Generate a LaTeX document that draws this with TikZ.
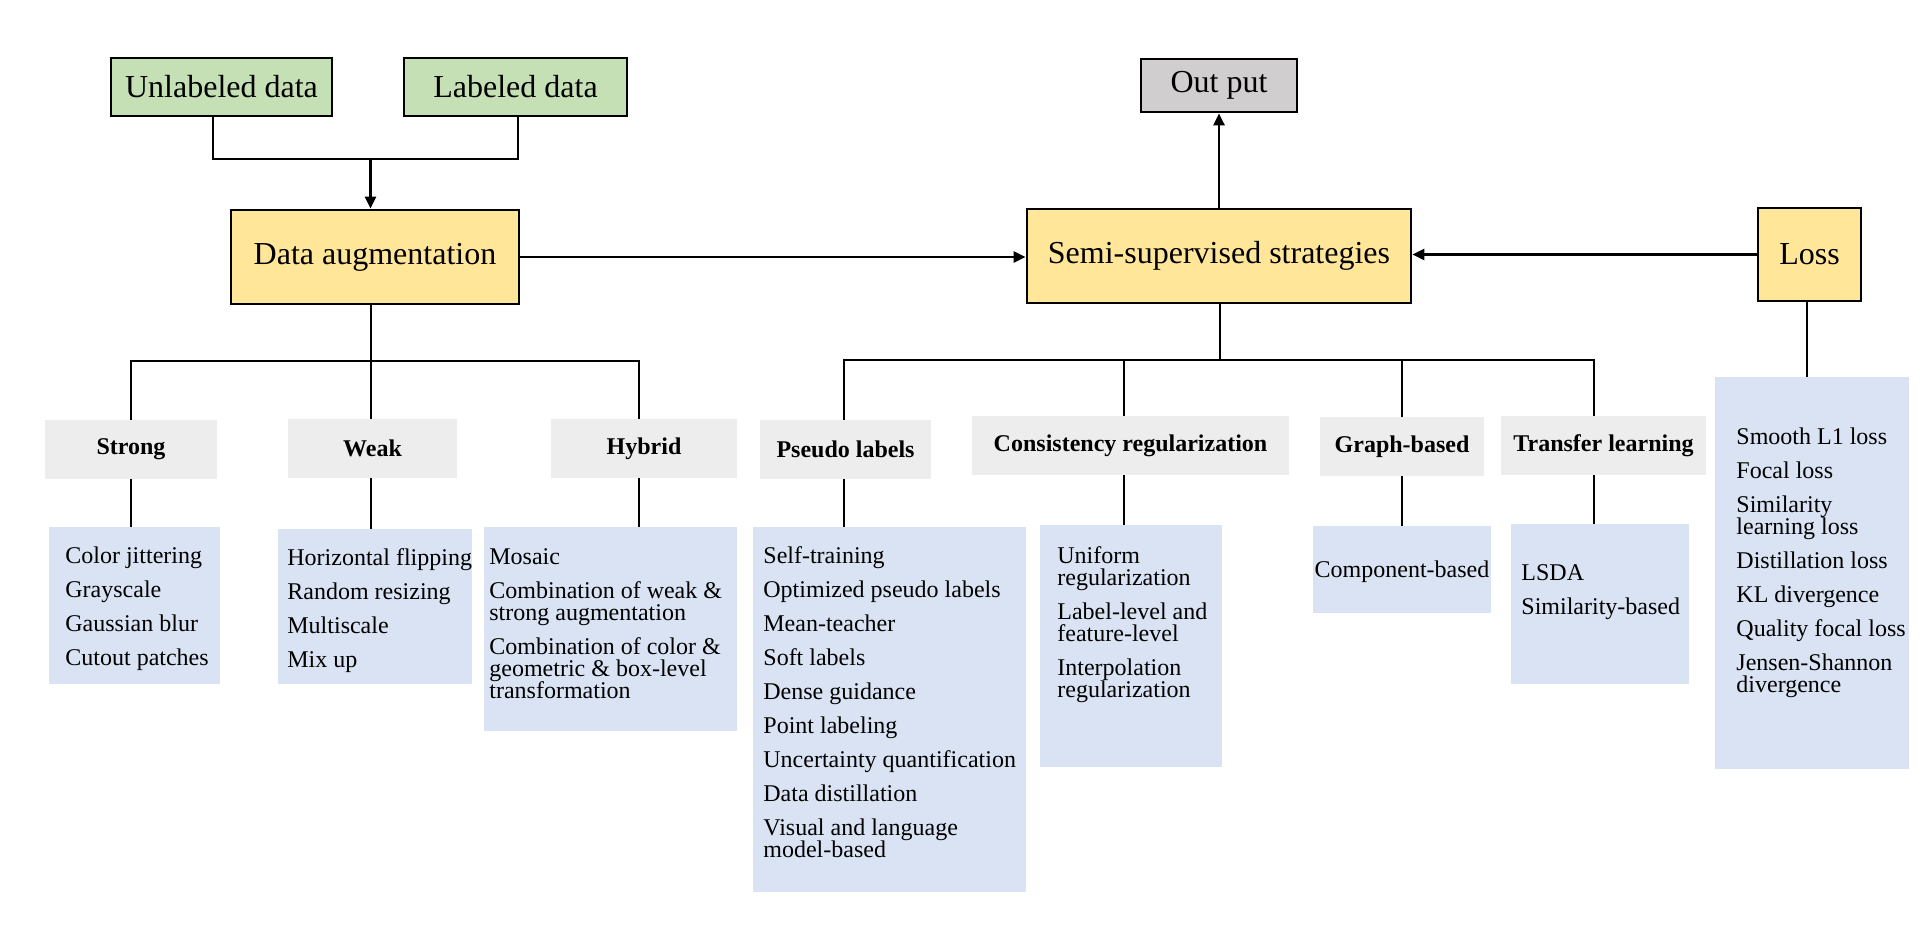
\documentclass[tikz,border=0pt]{standalone}
\usepackage{fontspec}
\setmainfont{Liberation Serif}
\usetikzlibrary{arrows.meta,calc}
\definecolor{cgreen}{HTML}{C5E0B4}
\definecolor{cyellow}{HTML}{FFE699}
\definecolor{cgrayout}{HTML}{D0CECE}
\definecolor{chead}{HTML}{EDEDED}
\definecolor{clist}{HTML}{DAE3F3}
\newcommand\mylistfont{\fontsize{12pt}{11pt}\selectfont\lineskiplimit=-20pt\relax\lineskip=0pt\relax}
\begin{document}
\begin{tikzpicture}[x=0.5pt,y=-0.5pt,
  mainbox/.style={draw=black, line width=1.4pt, inner sep=0, font=\fontsize{16pt}{19pt}\selectfont},
  gbox/.style={mainbox, fill=cgreen},
  ybox/.style={mainbox, fill=cyellow},
  obox/.style={mainbox, fill=cgrayout},
  headbox/.style={fill=chead, inner sep=0, minimum height=29.5pt, font=\fontsize{12pt}{14pt}\selectfont\bfseries},
  listbox/.style={fill=clist, inner sep=0, anchor=north west},
  listtext/.style={anchor=north west, inner sep=0, align=left, font=\mylistfont},
  conn/.style={line width=1.4pt},
  arr/.style={line width=1.4pt, -{Triangle[length=6pt,width=5.5pt]}}
]
\fill[white] (0,0) rectangle (1920,936);
\useasboundingbox (0,0) rectangle (1920,936);

% main boxes
\node[gbox, minimum width=110.5pt, minimum height=29pt] (unl) at (221.5,87) {Unlabeled data};
\node[gbox, minimum width=111.5pt, minimum height=29pt] (lab) at (515.5,87) {Labeled data};
\node[ybox, minimum width=144pt, minimum height=47pt] (aug) at (375,257) {Data augmentation};
\node[ybox, minimum width=192pt, minimum height=47pt] (semi) at (1219,256) {Semi-supervised strategies};
\node[obox, minimum width=78pt, minimum height=26.5pt] (out) at (1219,85.5) {Out put};
\node[ybox, minimum width=51.5pt, minimum height=46.5pt] (loss) at (1809.5,254.5) {Loss};

% headers
\node[headbox, minimum width=86pt] (hS) at (131,449.5) {Strong};
\node[headbox, minimum width=84.5pt] (hW) at (372.5,448.5) {Weak};
\node[headbox, minimum width=93pt] (hH) at (644,448.5) {Hybrid};
\node[headbox, minimum width=85.5pt] (hP) at (845.5,449.5) {Pseudo labels};
\node[headbox, minimum width=158.5pt] (hC) at (1130.5,445.5) {Consistency regularization};
\node[headbox, minimum width=82pt] (hG) at (1402,446.5) {Graph-based};
\node[headbox, minimum width=102.5pt] (hT) at (1603.5,445.5) {Transfer learning};

% list boxes
\node[listbox, minimum width=85.5pt, minimum height=78.5pt] (lS) at (49,527) {};
\node[listbox, minimum width=97pt, minimum height=77.5pt] (lW) at (278,529) {};
\node[listbox, minimum width=126.5pt, minimum height=102pt] (lH) at (484,527) {};
\node[listbox, minimum width=136.5pt, minimum height=182.5pt] (lP) at (753,527) {};
\node[listbox, minimum width=91pt, minimum height=121pt] (lC) at (1040,525) {};
\node[listbox, minimum width=89pt, minimum height=43.5pt] (lG) at (1313,526) {};
\node[listbox, minimum width=89pt, minimum height=80pt] (lT) at (1511,524) {};
\node[listbox, minimum width=97pt, minimum height=196pt] (lL) at (1715,377) {};

% list texts
\node[listtext] (tS) at (65,546) {\strut Color jittering\\[6pt]Grayscale\\[6pt]Gaussian blur\\[6pt]Cutout patches};
\node[listtext] (tW) at (287,548) {\strut Horizontal flipping\\[6pt]Random resizing\\[6pt]Multiscale\\[6pt]Mix up};
\node[listtext] (tH) at (489,548) {\strut Mosaic\\[6pt]Combination of weak \&\\strong augmentation\\[6pt]Combination of color \&\\geometric \& box-level\\transformation};
\node[listtext] (tP) at (763,546) {\strut Self-training\\[6pt]Optimized pseudo labels\\[6pt]Mean-teacher\\[6pt]Soft labels\\[6pt]Dense guidance\\[6pt]Point labeling\\[6pt]Uncertainty quantification\\[6pt]Data distillation\\[6pt]Visual and language\\model-based};
\node[listtext] (tC) at (1057,546) {\strut Uniform\\regularization\\[6pt]Label-level and\\feature-level\\[6pt]Interpolation\\regularization};
\node[font=\mylistfont, inner sep=0] (tG) at (1402,572) {Component-based};
\node[listtext] (tT) at (1521,564) {\strut LSDA\\[6pt]Similarity-based};
\node[listtext] (tL) at (1736,427) {\strut Smooth L1 loss\\[6pt]Focal loss\\[6pt]Similarity\\learning loss\\[6pt]Distillation loss\\[6pt]KL divergence\\[6pt]Quality focal loss\\[6pt]Jensen-Shannon\\divergence};

% top connectors
\coordinate (jU) at (213,159);
\coordinate (jL) at (518,159);
\coordinate (jA) at (370.5,159);
\draw[conn] (unl.south -| jU) -- (jU) -- (jL) -- (lab.south -| jL);
\draw[arr] (jA) -- (jA |- aug.north);
\draw[arr] (aug.east) -- (aug.east -| semi.west);
\draw[arr] (semi.north) -- (out.south);
\draw[arr] (loss.west) -- (loss.west -| semi.east);

% left tree
\coordinate (bA) at (371,361);
\coordinate (dS) at (131,361);
\coordinate (dW) at (371,361);
\coordinate (dH) at (639,361);
\draw[conn] (bA |- aug.south) -- (bA);
\draw[conn] (dS |- hS.north) -- (dS) -- (dH) -- (dH |- hH.north);
\draw[conn] (dW) -- (dW |- hW.north);
\draw[conn] (dS |- hS.south) -- (dS |- lS.north);
\draw[conn] (dW |- hW.south) -- (dW |- lW.north);
\draw[conn] (dH |- hH.south) -- (dH |- lH.north);

% right tree
\coordinate (bS) at (1220,360);
\coordinate (dP) at (844,360);
\coordinate (dC) at (1124,360);
\coordinate (dG) at (1402,360);
\coordinate (dT) at (1594,360);
\draw[conn] (bS |- semi.south) -- (bS);
\draw[conn] (dP |- hP.north) -- (dP) -- (dT) -- (dT |- hT.north);
\draw[conn] (dC) -- (dC |- hC.north);
\draw[conn] (dG) -- (dG |- hG.north);
\draw[conn] (dP |- hP.south) -- (dP |- lP.north);
\draw[conn] (dC |- hC.south) -- (dC |- lC.north);
\draw[conn] (dG |- hG.south) -- (dG |- lG.north);
\draw[conn] (dT |- hT.south) -- (dT |- lT.north);

% loss
\coordinate (dL) at (1807,300);
\draw[conn] (dL |- loss.south) -- (dL |- lL.north);
\end{tikzpicture}
\end{document}
